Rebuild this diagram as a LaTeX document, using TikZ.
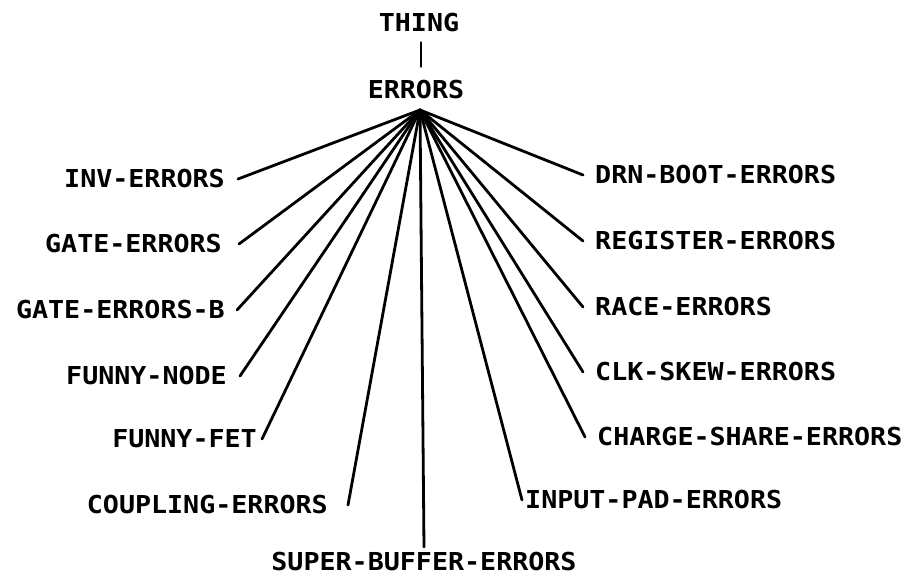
\documentclass[tikz,border=0pt]{standalone}
\usepackage{fontspec}
\newfontfamily\plotfont[FakeStretch=1.08]{DejaVu Sans Mono Bold}
\begin{document}
\begin{tikzpicture}[x=1pt,y=-1pt,
  lbl/.style={font=\plotfont\fontsize{24.7}{28}\selectfont, inner ysep=0pt},
  lleft/.style={lbl, anchor=east, inner xsep=#1},
  lright/.style={lbl, anchor=west, inner xsep=#1},
  branch/.style={line width=2.8pt, line cap=round}]
\useasboundingbox (0,0) rectangle (911,582);

% root of the hierarchy
\node[lbl, inner sep=0pt] (thing) at (419,23) {THING};
\node[lbl, inner sep=0pt] (errors) at (416,90) {ERRORS};
\draw[branch, shorten <=10pt, shorten >=14pt] (thing.south -| 421,0) -- (errors.north -| 421,0);
\coordinate (hub) at (420,110);

% subclasses on the left
\node[lleft=13pt] (inv)   at (238,179) {INV-ERRORS};
\node[lleft=17pt] (gate)  at (239,244) {GATE-ERRORS};
\node[lleft=12pt] (gateb) at (237,310) {GATE-ERRORS-B};
\node[lleft=13pt] (fnode) at (240,376) {FUNNY-NODE};
\node[lleft=5pt]  (ffet)  at (262,439) {FUNNY-FET};
\node[lleft=20pt] (coup)  at (348,505) {COUPLING-ERRORS};

% subclasses on the right
\node[lright=12pt] (drn)    at (583,175) {DRN-BOOT-ERRORS};
\node[lright=12pt] (reg)    at (583,241) {REGISTER-ERRORS};
\node[lright=12pt] (race)   at (583,307) {RACE-ERRORS};
\node[lright=12pt] (clk)    at (583,372) {CLK-SKEW-ERRORS};
\node[lright=12pt] (charge) at (585,437) {CHARGE-SHARE-ERRORS};
\node[lright=3pt]  (input)  at (522,500) {INPUT-PAD-ERRORS};

% subclass straight below
\node[lbl, anchor=north, inner ysep=5pt] (super) at (424,547) {SUPER-BUFFER-ERRORS};

% fan of links from ERRORS
\foreach \n in {inv,gate,gateb,fnode,ffet,coup}
  \draw[branch] (hub) -- (\n.east);
\foreach \n in {drn,reg,race,clk,charge,input}
  \draw[branch] (hub) -- (\n.west);
\draw[branch] (hub) -- (super.north);
\fill (hub) -- ++(-9,5) -- ++(18,0) -- cycle;
\end{tikzpicture}
\end{document}
